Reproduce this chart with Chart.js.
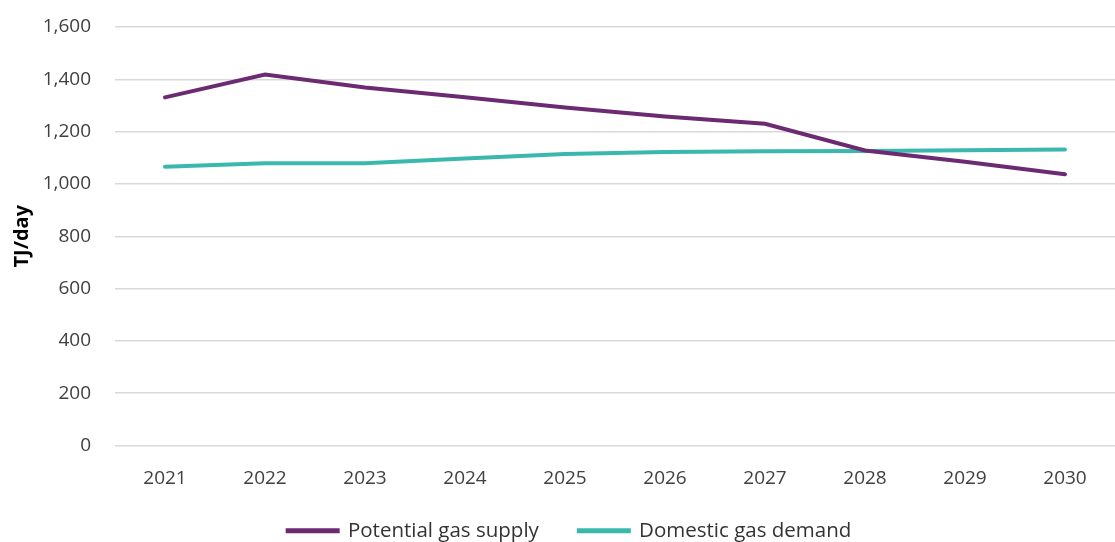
<!DOCTYPE html>
<html>
<head>
<meta charset="utf-8">
<script src="https://cdn.jsdelivr.net/npm/chart.js@4"></script>
<style>
  html, body { margin: 0; padding: 0; background: #fff; overflow: hidden; }
  #wrap { width: 1115px; height: 551px; position: relative; }
</style>
</head>
<body>
<div id="wrap"><canvas id="myChart"></canvas></div>
<script>
// Gas supply vs demand, TJ/day

const years = ["2021", "2022", "2023", "2024", "2025", "2026", "2027", "2028", "2029", "2030"];
const supply = [1331, 1418, 1369, 1331, 1292, 1258, 1230, 1128, 1085, 1037];
const demand = [1066, 1079, 1079, 1097, 1114, 1122, 1125, 1126, 1129, 1132];

const FONT = "'Open Sans', sans-serif";

const ctx = document.getElementById("myChart");

// legend sits a little right of centre; x labels hang below the axis box
const tweakLayout = {
  id: "tweakLayout",
  afterLayout: (chart) => {
    chart.legend.left += 12;
    chart.legend.right += 12;
    chart.scales.x.bottom += 25;
  },
};

new Chart(ctx, {
  type: "line",
  data: {
    labels: years,
    datasets: [
      {
        label: "Potential gas supply",
        data: supply,
        borderColor: "#6b2a72",
        backgroundColor: "#6b2a72",
        borderWidth: 4,
        pointRadius: 0,
        tension: 0,
        borderCapStyle: "round",
      },
      {
        label: "Domestic gas demand",
        data: demand,
        borderColor: "#3bb8ad",
        backgroundColor: "#3bb8ad",
        borderWidth: 4,
        pointRadius: 0,
        tension: 0,
        borderCapStyle: "round",
      },
    ],
  },
  options: {
    responsive: true,
    maintainAspectRatio: false,
    animation: false,
    layout: { padding: { top: 27, right: 0, bottom: 0, left: 0 } },
    plugins: {
      tooltip: { enabled: false },
      legend: {
        position: "bottom",
        labels: {
          boxWidth: 50,
          boxHeight: 1,
          padding: 40,
          color: "#333",
          font: { family: FONT, size: 20.5 },
        },
      },
    },
    scales: {
      x: {
        offset: true,
        grid: { display: false },
        border: { display: false },
        ticks: { color: "#404040", padding: 14, font: { family: FONT, size: 19 } },
        afterFit: (scale) => { scale.height = 35; },
      },
      y: {
        min: 0,
        max: 1600,
        grid: { color: "#d9d9d9", lineWidth: 1.5, drawTicks: false },
        border: { display: false },
        ticks: {
          stepSize: 200,
          padding: 24,
          color: "#404040",
          font: { family: FONT, size: 19 },
          callback: (v) => v.toLocaleString("en-US"),
        },
        title: {
          display: true,
          text: "TJ/day",
          color: "#000",
          padding: { top: 10, bottom: 0 },
          font: { family: FONT, size: 20, weight: "bold" },
        },
        afterFit: (scale) => {
          scale.width = 115;
          scale.paddingTop = 0;
          scale.paddingBottom = 0;
        },
      },
    },
  },
  plugins: [tweakLayout],
});
</script>
</body>
</html>
